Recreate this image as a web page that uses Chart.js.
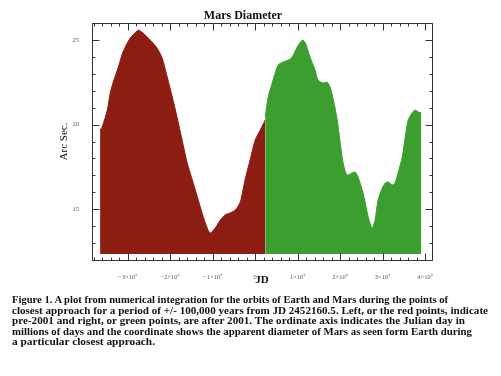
<!DOCTYPE html>
<html><head><meta charset="utf-8">
<script src="https://cdn.jsdelivr.net/npm/chart.js@4/dist/chart.umd.min.js"></script>
<style>
html,body{margin:0;padding:0;background:#fff;width:501px;height:376px;overflow:hidden}
#wrap{position:absolute;left:0;top:0;width:501px;height:290px}
#c,#ov{position:absolute;left:0;top:0}
#ov{pointer-events:none}
#cap{position:absolute;left:12px;top:295px;font-family:"Liberation Serif","Times New Roman",serif;font-weight:bold;font-size:10px;line-height:10.6px;color:#111}
#cap span{display:block;width:max-content;white-space:nowrap;transform-origin:0 0}
</style></head><body>
<div id="wrap"><canvas id="c" width="501" height="290"></canvas><canvas id="ov" width="501" height="290"></canvas></div>
<div id="cap">
<span data-w="436">Figure 1. A plot from numerical integration for the orbits of Earth and Mars during the points of</span>
<span data-w="476">closest approach for a period of +/- 100,000 years from JD 2452160.5. Left, or the red points, indicate</span>
<span data-w="453">pre-2001 and right, or green points, are after 2001. The ordinate axis indicates the Julian day in</span>
<span data-w="460">millions of days and the coordinate shows the apparent diameter of Mars as seen form Earth during</span>
<span data-w="143">a particular closest approach.</span>
</div>
<script>
// Julian day (days) and apparent diameter (arc sec)
const redJD  = [-36.5e6,-36.0e6,-34.8e6,-34.1e6,-33.4e6,-32.2e6,-31.1e6,-29.4e6,-27.8e6,-27.5e6,-26.4e6,-24.7e6,-23.1e6,-21.9e6,-20.7e6,-19.5e6,-18.4e6,-17.2e6,-16.0e6,-14.8e6,-13.6e6,-12.5e6,-11.3e6,-10.6e6,-9.4e6,-8.2e6,-7.1e6,-5.9e6,-4.7e6,-3.5e6,-2.4e6,-1.2e6,0,1.2e6,2.35e6];
const redArc = [19.68,19.86,20.86,21.86,22.51,23.40,24.29,25.11,25.53,25.59,25.41,24.99,24.52,23.93,22.81,21.63,20.45,19.09,17.73,16.73,15.72,14.78,13.89,13.59,13.89,14.36,14.66,14.78,14.95,15.43,16.73,17.91,19.09,19.68,20.27];
const greenJD  = [2.35e6,3.06e6,4.0e6,4.7e6,5.4e6,6.6e6,7.8e6,8.7e6,9.9e6,11.1e6,11.8e6,12.9e6,14.1e6,14.8e6,16.0e6,16.9e6,17.6e6,18.4e6,19.3e6,20.0e6,20.7e6,21.6e6,22.8e6,23.5e6,24.2e6,25.2e6,25.9e6,26.6e6,27.5e6,28.2e6,28.9e6,29.9e6,30.6e6,31.3e6,32.2e6,32.9e6,33.6e6,34.6e6,35.3e6,36.0e6,36.9e6,37.6e6,38.4e6,39.1e6];
const greenArc = [20.45,21.63,22.45,23.05,23.52,23.70,23.81,23.99,24.58,24.99,24.82,23.99,23.22,22.63,22.45,22.51,22.22,21.45,20.27,18.91,17.73,17.02,17.14,17.20,16.90,16.13,15.37,14.54,13.89,14.36,15.54,16.25,16.55,16.61,16.43,16.55,17.14,18.08,19.27,20.27,20.68,20.86,20.74,20.68];
const baselineArc = 12.35;

const xMajorValues = [-3e7,-2e7,-1e7,0,1e7,2e7,3e7,4e7];
const xMajorLabels = ["\u22123\u00d710\u2077","\u22122\u00d710\u2077","\u22121\u00d710\u2077","0","1\u00d710\u2077","2\u00d710\u2077","3\u00d710\u2077","4\u00d710\u2077"];
const xMinorStep = 2e6;
const yMajorValues = [15,20,25];
const yMajorLabels = ["15","20","25"];
const yMinorStep = 1;
const xRange = [-3.84e7, 4.16e7];
const yRange = [12, 26];

function makeTicks(min,max,step){const t=[];for(let v=Math.ceil(min/step)*step;v<=max+1e-9;v+=step){t.push(Math.round(v/step)*step);}return t;}

const inwardTicks = {
  id:'inwardTicks',
  afterDraw(chart){
    const ov=document.getElementById('ov');
    const ctx=ov.getContext('2d'), a=chart.chartArea, xs=chart.scales.x, ys=chart.scales.y;
    ctx.setTransform(1,0,0,1,0,0);
    ctx.clearRect(0,0,ov.width,ov.height);
    ctx.strokeStyle='#333'; ctx.lineWidth=1;
    const L=Math.round(a.left)+0.5, R=Math.round(a.right)+0.5, T=Math.round(a.top)+0.5, B=Math.round(a.bottom)+0.5;
    ctx.strokeRect(L,T,R-L,B-T);
    ctx.beginPath();
    makeTicks(xRange[0],xRange[1],xMinorStep).forEach(v=>{
      const p=Math.round(xs.getPixelForValue(v))+0.5;
      const len=xMajorValues.includes(v)?7:3;
      ctx.moveTo(p,B);ctx.lineTo(p,B-len);
      ctx.moveTo(p,T);ctx.lineTo(p,T+len);
    });
    makeTicks(yRange[0],yRange[1],yMinorStep).forEach(v=>{
      const p=Math.round(ys.getPixelForValue(v))+0.5;
      const len=yMajorValues.includes(v)?7:3;
      ctx.moveTo(L,p);ctx.lineTo(L+len,p);
      ctx.moveTo(R,p);ctx.lineTo(R-len,p);
    });
    ctx.stroke();
  }
};

new Chart(document.getElementById('c'),{
  type:'line',
  data:{datasets:[
    {label:'pre-2001',data:redJD.map((x,i)=>({x,y:redArc[i]})),borderColor:'#8c1d12',backgroundColor:'#8c1d12',borderWidth:1,pointRadius:0,tension:0.25,fill:{value:baselineArc}},
    {label:'after 2001',data:greenJD.map((x,i)=>({x,y:greenArc[i]})),borderColor:'#3c9e2e',backgroundColor:'#3c9e2e',borderWidth:1,pointRadius:0,tension:0.25,fill:{value:baselineArc}}
  ]},
  options:{
    responsive:false,animation:false,
    layout:{padding:{left:54,right:69,top:0,bottom:0}},
    plugins:{
      legend:{display:false},tooltip:{enabled:false},
      title:{display:true,text:'Mars Diameter',color:'#111',font:{family:'Liberation Serif',size:12,weight:'bold',lineHeight:1.2},padding:{top:8.6,bottom:0}}
    },
    scales:{
      x:{type:'linear',min:xRange[0],max:xRange[1],
        afterBuildTicks(s){s.ticks=xMajorValues.map(v=>({value:v}));},
        afterFit(s){s.height=30;},
        grid:{display:false},border:{display:false},
        ticks:{autoSkip:false,maxRotation:0,minRotation:0,padding:5,color:'#555',font:{family:'Liberation Serif',size:6.5},
          callback(v){const i=xMajorValues.indexOf(v);return i>=0?xMajorLabels[i]:'';}},
        title:{display:true,text:'JD',color:'#111',font:{family:'Liberation Serif',size:11,weight:'bold'},padding:{top:0,bottom:3}}
      },
      y:{min:yRange[0],max:yRange[1],
        afterBuildTicks(s){s.ticks=yMajorValues.map(v=>({value:v}));},
        afterFit(s){s.width=38;},
        grid:{display:false},border:{display:false},
        ticks:{autoSkip:false,padding:5,color:'#555',font:{family:'Liberation Serif',size:6.5},
          callback(v){const i=yMajorValues.indexOf(v);return i>=0?yMajorLabels[i]:'';}},
        title:{display:true,text:'Arc Sec.',color:'#111',font:{family:'Liberation Serif',size:11},padding:{top:4,bottom:0}}
      }
    }
  },
  plugins:[inwardTicks]
});

document.querySelectorAll('#cap span').forEach(s=>{
  const w=s.getBoundingClientRect().width, tw=+s.dataset.w;
  if(w>0) s.style.transform='scaleX('+(tw/w)+')';
});
</script>
</body></html>
